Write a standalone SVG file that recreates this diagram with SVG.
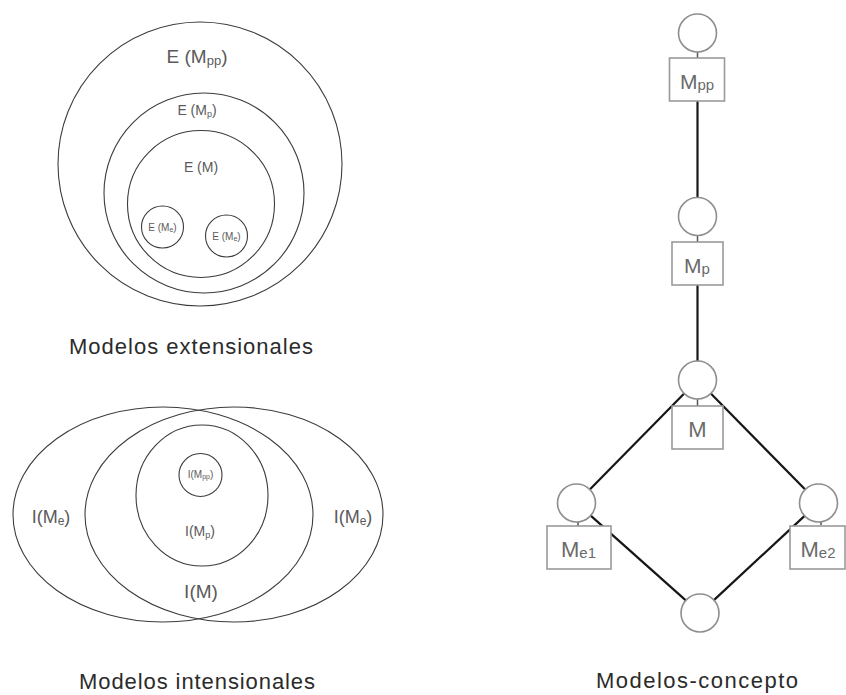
<svg xmlns="http://www.w3.org/2000/svg" width="846" height="695" viewBox="0 0 846 695">
  <style>
    text { font-family: "Liberation Sans", Arial, Helvetica, sans-serif; text-anchor: middle; }
    .set { fill: none; stroke: #3c3c3c; stroke-width: 1.1; }
    .lbl { fill: #5a5a5a; }
    .title { fill: #2b2b2b; font-size: 22px; }
    .node { fill: #ffffff; stroke: #8e8e8e; stroke-width: 1.6; }
    .box { fill: #ffffff; stroke: #9a9a9a; stroke-width: 1.6; }
    .boxlbl { fill: #6a6a6a; }
    .edge { stroke: #161616; stroke-width: 2.2; fill: none; }
    .tick { stroke: #555555; stroke-width: 1.5; }
  </style>

  <rect width="846" height="695" fill="#ffffff"/>

  <!-- Extensional models: nested extensions -->
  <g id="extensional">
    <circle class="set" cx="200" cy="164" r="142"/>
    <circle class="set" cx="204" cy="193" r="100"/>
    <circle class="set" cx="201" cy="204" r="73.5"/>
    <circle class="set" cx="162.5" cy="227" r="21"/>
    <circle class="set" cx="226.5" cy="236" r="21"/>
    <text class="lbl" x="197" y="63" font-size="19">E (M<tspan font-size="13" dy="2">pp</tspan><tspan dy="-2">)</tspan></text>
    <text class="lbl" x="197" y="115" font-size="14">E (M<tspan font-size="9" dy="1.5">p</tspan><tspan dy="-1.5">)</tspan></text>
    <text class="lbl" x="201" y="172" font-size="14">E (M)</text>
    <text class="lbl" x="162.5" y="231" font-size="10">E (M<tspan font-size="7" dy="1">e</tspan><tspan dy="-1">)</tspan></text>
    <text class="lbl" x="226.5" y="240" font-size="10">E (M<tspan font-size="7" dy="1">e</tspan><tspan dy="-1">)</tspan></text>
    <text class="title" x="191" y="354" textLength="244" lengthAdjust="spacing">Modelos extensionales</text>
  </g>

  <!-- Intensional models: overlapping intensions -->
  <g id="intensional">
    <ellipse class="set" cx="163" cy="514.5" rx="150" ry="107.5"/>
    <ellipse class="set" cx="234" cy="514.5" rx="149" ry="107.5"/>
    <ellipse class="set" cx="202" cy="495.5" rx="66" ry="70.5"/>
    <circle class="set" cx="200.5" cy="475" r="21.5"/>
    <text class="lbl" x="51" y="523" font-size="18">I(M<tspan font-size="12" dy="2">e</tspan><tspan dy="-2">)</tspan></text>
    <text class="lbl" x="353" y="523" font-size="18">I(M<tspan font-size="12" dy="2">e</tspan><tspan dy="-2">)</tspan></text>
    <text class="lbl" x="200" y="536" font-size="14">I(M<tspan font-size="9" dy="1.5">p</tspan><tspan dy="-1.5">)</tspan></text>
    <text class="lbl" x="201" y="598" font-size="19">I(M)</text>
    <text class="lbl" x="200.5" y="478" font-size="10">I(M<tspan font-size="7" dy="1">pp</tspan><tspan dy="-1">)</tspan></text>
    <text class="title" x="197" y="689" textLength="236" lengthAdjust="spacing">Modelos intensionales</text>
  </g>

  <!-- Concept models: lattice -->
  <g id="connectors">
    <line class="edge" x1="697.5" y1="101" x2="697.5" y2="197.5"/>
    <line class="edge" x1="697.5" y1="285" x2="697.5" y2="361"/>
    <line class="edge" x1="684.2" y1="393.5" x2="589.8" y2="489.5"/>
    <line class="edge" x1="710.8" y1="393.5" x2="805.2" y2="489.5"/>
    <line class="edge" x1="590.7" y1="515.6" x2="685.8" y2="600.4"/>
    <line class="edge" x1="804.6" y1="515.9" x2="713.9" y2="600.1"/>
    <line class="tick" x1="697.5" y1="52" x2="697.5" y2="58"/>
    <line class="tick" x1="697.5" y1="235.5" x2="697.5" y2="242"/>
    <line class="tick" x1="697.5" y1="399" x2="697.5" y2="406"/>
    <line class="tick" x1="578" y1="522" x2="578" y2="526"/>
    <line class="tick" x1="821" y1="522" x2="821" y2="525"/>
  </g>

  <g id="node-mpp">
    <circle class="node" cx="697.5" cy="33" r="19"/>
    <rect class="box" x="669.5" y="58" width="55" height="43"/>
    <text class="boxlbl" x="697" y="89" font-size="21">M<tspan font-size="15" dy="1">pp</tspan></text>
  </g>
  <g id="node-mp">
    <circle class="node" cx="697.5" cy="216.5" r="19"/>
    <rect class="box" x="672" y="242" width="51" height="43"/>
    <text class="boxlbl" x="697" y="273" font-size="21">M<tspan font-size="15" dy="1">p</tspan></text>
  </g>
  <g id="node-m">
    <circle class="node" cx="697.5" cy="380" r="19"/>
    <rect class="box" x="672" y="406" width="51" height="43"/>
    <text class="boxlbl" x="697.5" y="437" font-size="22">M</text>
  </g>
  <g id="node-me1">
    <circle class="node" cx="576.5" cy="503" r="19"/>
    <rect class="box" x="547" y="526" width="64" height="43"/>
    <text class="boxlbl" x="578.5" y="557" font-size="22">M<tspan font-size="15" dy="1">e1</tspan></text>
  </g>
  <g id="node-me2">
    <circle class="node" cx="818.5" cy="503" r="19"/>
    <rect class="box" x="790" y="526" width="55" height="43"/>
    <text class="boxlbl" x="818" y="557" font-size="22">M<tspan font-size="15" dy="1">e2</tspan></text>
  </g>
  <g id="node-bottom">
    <circle class="node" cx="700" cy="613" r="19"/>
  </g>

  <text class="title" x="697" y="688" textLength="202" lengthAdjust="spacing">Modelos-concepto</text>
</svg>
